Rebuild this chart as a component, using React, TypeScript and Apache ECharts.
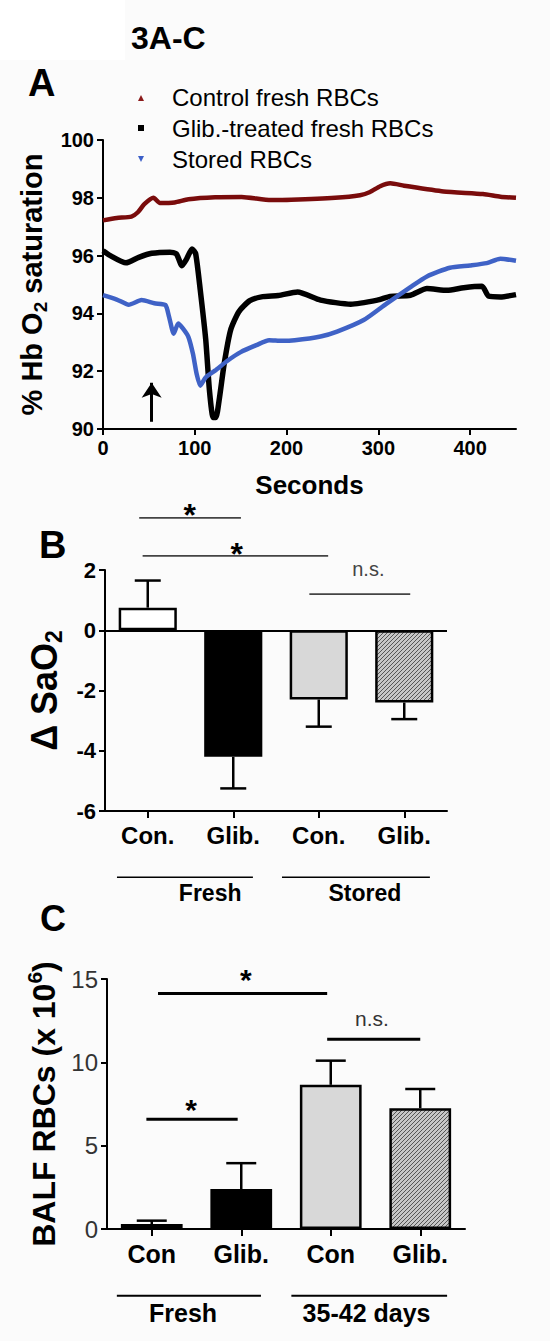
import React, { useEffect, useRef } from 'react';
import * as echarts from 'echarts';

const FONT = "'Liberation Sans', Arial, Helvetica, sans-serif";

// ---------- Panel A: O2 saturation traces ----------
const aXTicks = [0, 100, 200, 300, 400];
const controlT = [0, 15, 31, 38, 45, 55, 62, 78, 93, 122, 151, 183, 205, 253, 280, 291, 302, 313, 328, 371, 414, 433, 450];
const controlV = [97.22, 97.3, 97.35, 97.5, 97.78, 98.0, 97.82, 97.84, 97.95, 98.02, 98.03, 97.92, 97.93, 98.0, 98.09, 98.2, 98.4, 98.5, 98.42, 98.22, 98.13, 98.04, 98.0];
const glibT = [0, 8, 25, 39, 53, 73, 80, 86, 91, 97, 101, 106, 112, 116, 120, 123, 127, 132, 139, 148, 160, 174, 191, 212, 237, 270, 299, 313, 335, 353, 375, 393, 413, 420, 433, 450];
const glibV = [96.17, 96.0, 95.75, 95.94, 96.08, 96.12, 96.06, 95.65, 95.88, 96.23, 96.06, 94.8, 93.07, 91.33, 90.4, 90.4, 91.1, 92.25, 93.42, 94.06, 94.44, 94.58, 94.62, 94.74, 94.46, 94.32, 94.46, 94.59, 94.63, 94.86, 94.8, 94.89, 94.94, 94.6, 94.57, 94.65];
const storedT = [0, 15, 28, 42, 56, 68, 72, 77, 82, 87, 93, 98, 102, 106, 112, 122, 136, 150, 167, 181, 195, 209, 237, 255, 284, 309, 335, 353, 378, 400, 418, 433, 450];
const storedV = [94.63, 94.48, 94.3, 94.46, 94.35, 94.29, 93.88, 93.3, 93.65, 93.48, 93.19, 92.6, 91.91, 91.5, 91.79, 92.02, 92.37, 92.66, 92.9, 93.07, 93.05, 93.07, 93.2, 93.37, 93.77, 94.34, 94.91, 95.28, 95.58, 95.66, 95.74, 95.89, 95.82];
const legendNames = ['Control fresh RBCs', 'Glib.-treated fresh RBCs', 'Stored RBCs'];
const arrowAt = [53, 90.25, 91.6]; // seconds, tail, tip

// ---------- Panel B: delta SaO2 ----------
const bCats = ['Con.', 'Glib.', 'Con.', 'Glib.'];
const bMeans = [0.75, -4.2, -2.3, -2.4];
const bErrEnds = [1.65, -5.25, -3.2, -2.95];
const bBrackets = [[-0.1, 1.09, 3.73], [-0.06, 2.11, 2.47], [1.89, 3.07, 1.2]];
const bMarkPos = [[0.49, 4.1], [1.04, 2.8], [2.58, 2.03]];
const bMarkText = ['*', '*', 'n.s.'];
const bGroupLines = [[-0.36, 1.23, -8.2], [1.57, 3.3, -8.2]];
const bGroupPos = [[0.73, -8.73], [2.54, -8.73]];
const bGroupText = ['Fresh', 'Stored'];

// ---------- Panel C: BALF RBCs ----------
const cCats = ['Con', 'Glib.', 'Con', 'Glib.'];
const cMeans = [0.3, 2.4, 8.65, 7.25];
const cErrEnds = [0.5, 3.95, 10.1, 8.4];
const cBrackets = [[0.07, 1.96, 14.13], [1.96, 3.0, 11.38], [-0.06, 0.96, 6.59]];
const cMarkPos = [[1.05, 15.4], [2.46, 12.63], [0.44, 7.6]];
const cMarkText = ['*', 'n.s.', '*'];
const cGroupLines = [[-0.39, 1.22, -4.01], [1.56, 3.3, -4.01]];
const cGroupPos = [[0.35, -5.03], [2.4, -5.03]];
const cGroupText = ['Fresh', '35-42 days'];

function makeHatch() {
  const c = document.createElement('canvas');
  c.width = 4;
  c.height = 4;
  const g = c.getContext('2d')!;
  g.fillStyle = '#c6c6c6';
  g.fillRect(0, 0, 4, 4);
  g.strokeStyle = '#555';
  g.lineWidth = 1;
  g.beginPath();
  g.moveTo(0, 4); g.lineTo(4, 0);
  g.moveTo(-1, 1); g.lineTo(1, -1);
  g.moveTo(3, 5); g.lineTo(5, 3);
  g.stroke();
  return c;
}

const zip = (t: number[], v: number[]) => t.map((x, i) => [x, v[i]]);

function errorSeries(xi: number, yi: number, means: number[], ends: number[], cap: number) {
  return {
    type: 'custom',
    xAxisIndex: xi,
    yAxisIndex: yi,
    clip: false,
    z: 3,
    data: means.map((m, i) => [i, m, ends[i]]),
    renderItem: (_p: any, api: any) => {
      const x = api.value(0);
      const p0 = api.coord([x, api.value(1)]);
      const p1 = api.coord([x, api.value(2)]);
      const st = { stroke: '#000', lineWidth: 2.5 };
      return {
        type: 'group',
        children: [
          { type: 'line', shape: { x1: p0[0], y1: p0[1], x2: p1[0], y2: p1[1] }, style: st },
          { type: 'line', shape: { x1: p1[0] - cap / 2, y1: p1[1], x2: p1[0] + cap / 2, y2: p1[1] }, style: st },
        ],
      };
    },
  };
}

function segSeries(xi: number, yi: number, segs: number[][], color: string, width: number) {
  return {
    type: 'custom',
    xAxisIndex: xi,
    yAxisIndex: yi,
    clip: false,
    silent: true,
    data: segs,
    renderItem: (_p: any, api: any) => {
      const a = api.coord([api.value(0), api.value(2)]);
      const b = api.coord([api.value(1), api.value(2)]);
      return { type: 'line', shape: { x1: a[0], y1: a[1], x2: b[0], y2: b[1] }, style: { stroke: color, lineWidth: width } };
    },
  };
}

function textSeries(xi: number, yi: number, pos: number[][], texts: string[], styleFor: (t: string) => any) {
  return {
    type: 'custom',
    xAxisIndex: xi,
    yAxisIndex: yi,
    clip: false,
    silent: true,
    data: pos,
    renderItem: (p: any, api: any) => {
      const t = texts[p.dataIndex];
      const s = styleFor(t);
      const c = api.coord([api.value(0), api.value(1)]);
      return {
        type: 'text',
        x: c[0],
        y: c[1] + (t === '*' ? s.fontSize * 0.25 : 0),
        style: { text: t, align: 'center', verticalAlign: 'middle', fontFamily: FONT, ...s },
      };
    },
  };
}

function buildOption() {
  const hatch = makeHatch();
  const axisLine = { show: true, onZero: false, lineStyle: { color: '#000', width: 2 } };
  const tick = (len: number) => ({ show: true, length: len, lineStyle: { color: '#000', width: 2 } });
  const boldLbl = (size: number, margin: number) => ({ color: '#000', fontSize: size, fontWeight: 'bold', fontFamily: FONT, margin });
  const barBorder = { borderColor: '#000', borderWidth: 2.5 };
  const fills = ['#ffffff', '#000000', '#d8d8d8', { image: hatch, repeat: 'repeat' }];

  return {
    animation: false,
    backgroundColor: '#fbfbfb',
    grid: [
      { left: 103, top: 140, width: 413, height: 289 },
      { left: 105, top: 570, width: 342, height: 241 },
      { left: 107, top: 979, width: 358, height: 250 },
    ],
    xAxis: [
      {
        type: 'value', gridIndex: 0, min: 0, max: 450,
        axisLine, axisTick: { ...tick(6), customValues: aXTicks },
        axisLabel: { ...boldLbl(20, 9), customValues: aXTicks },
        splitLine: { show: false },
        name: 'Seconds', nameLocation: 'middle', nameGap: 43,
        nameTextStyle: { color: '#000', fontSize: 26, fontWeight: 'bold', fontFamily: FONT },
      },
      {
        type: 'category', gridIndex: 1, data: bCats,
        axisLine, axisTick: { ...tick(7), alignWithLabel: true },
        axisLabel: boldLbl(24, 12),
      },
      { type: 'value', gridIndex: 1, min: -0.5, max: 3.5, show: false },
      {
        type: 'category', gridIndex: 2, data: cCats,
        axisLine, axisTick: { ...tick(7), alignWithLabel: true },
        axisLabel: boldLbl(25, 12),
      },
      { type: 'value', gridIndex: 2, min: -0.5, max: 3.5, show: false },
    ],
    yAxis: [
      {
        type: 'value', gridIndex: 0, min: 90, max: 100, interval: 2,
        axisLine, axisTick: tick(6), axisLabel: boldLbl(20, 9), splitLine: { show: false },
        name: '{a|% Hb O}{s|2}{a| saturation}', nameLocation: 'middle', nameRotate: 90, nameGap: 43,
        nameTextStyle: {
          rich: {
            a: { fontSize: 29, fontWeight: 'bold', fontFamily: FONT, color: '#000', lineHeight: 36 },
            s: { fontSize: 19, fontWeight: 'bold', fontFamily: FONT, color: '#000', verticalAlign: 'bottom', lineHeight: 20 },
          },
        },
      },
      {
        type: 'value', gridIndex: 1, min: -6, max: 2, interval: 2,
        axisLine, axisTick: tick(6), axisLabel: boldLbl(22, 9), splitLine: { show: false },
        name: '{a|Δ SaO}{s|2}', nameLocation: 'middle', nameRotate: 90, nameGap: 26,
        nameTextStyle: {
          rich: {
            a: { fontSize: 36, fontWeight: 'bold', fontFamily: FONT, color: '#000', lineHeight: 42 },
            s: { fontSize: 23, fontWeight: 'bold', fontFamily: FONT, color: '#000', verticalAlign: 'bottom', lineHeight: 22 },
          },
        },
      },
      {
        type: 'value', gridIndex: 2, min: 0, max: 15, interval: 5,
        axisLine, axisTick: tick(6),
        axisLabel: { color: '#333', fontSize: 24, fontFamily: FONT, margin: 9 },
        splitLine: { show: false },
        name: '{a|BALF RBCs (x 10}{p|6}{a|)}', nameLocation: 'middle', nameRotate: 90, nameGap: 33,
        nameTextStyle: {
          rich: {
            a: { fontSize: 32, fontWeight: 'bold', fontFamily: FONT, color: '#000', lineHeight: 40 },
            p: { fontSize: 21, fontWeight: 'bold', fontFamily: FONT, color: '#000', verticalAlign: 'top', lineHeight: 22 },
          },
        },
      },
    ],
    graphic: [
      { type: 'rect', shape: { x: 0, y: 0, width: 125, height: 60 }, style: { fill: '#ffffff' }, silent: true, z: -10 },
      { type: 'text', x: 131, y: 38, style: { text: '3A-C', fontSize: 32, fontWeight: 'bold', fontFamily: FONT, fill: '#000', verticalAlign: 'middle' } },
      { type: 'text', x: 28, y: 83, style: { text: 'A', fontSize: 38, fontWeight: 'bold', fontFamily: FONT, fill: '#000', verticalAlign: 'middle' } },
      { type: 'text', x: 39, y: 545, style: { text: 'B', fontSize: 38, fontWeight: 'bold', fontFamily: FONT, fill: '#000', verticalAlign: 'middle' } },
      { type: 'text', x: 40, y: 918, style: { text: 'C', fontSize: 36, fontWeight: 'bold', fontFamily: FONT, fill: '#000', verticalAlign: 'middle' } },
      { type: 'polygon', shape: { points: [[138, 101], [144, 101], [141, 95]] }, style: { fill: '#8b1a1a' } },
      { type: 'rect', shape: { x: 138, y: 125, width: 6, height: 6 }, style: { fill: '#000' } },
      { type: 'polygon', shape: { points: [[138, 156], [144, 156], [141, 162]] }, style: { fill: '#3c5fc8' } },
      ...legendNames.map((n, i) => ({
        type: 'text', x: 172, y: [97, 128, 159][i],
        style: { text: n, fontSize: 24, fontFamily: FONT, fill: '#000', verticalAlign: 'middle' },
      })),
    ],
    series: [
      {
        name: legendNames[0], type: 'line', xAxisIndex: 0, yAxisIndex: 0, data: zip(controlT, controlV),
        showSymbol: false, smooth: 0.2, lineStyle: { color: '#7a0c0c', width: 4.5 }, itemStyle: { color: '#7a0c0c' },
      },
      {
        name: legendNames[1], type: 'line', xAxisIndex: 0, yAxisIndex: 0, data: zip(glibT, glibV),
        showSymbol: false, smooth: 0.2, lineStyle: { color: '#000', width: 5.5 }, itemStyle: { color: '#000' },
        markLine: {
          silent: true, symbol: ['none', 'arrow'], symbolSize: 15, label: { show: false },
          lineStyle: { color: '#000', width: 3, type: 'solid' },
          data: [[{ coord: [arrowAt[0], arrowAt[1]] }, { coord: [arrowAt[0], arrowAt[2]] }]],
        },
      },
      {
        name: legendNames[2], type: 'line', xAxisIndex: 0, yAxisIndex: 0, data: zip(storedT, storedV),
        showSymbol: false, smooth: 0.2, lineStyle: { color: '#3f62c6', width: 4.5 }, itemStyle: { color: '#3f62c6' },
      },
      // Panel B
      {
        type: 'bar', xAxisIndex: 1, yAxisIndex: 1, barWidth: '68%',
        data: bMeans.map((v, i) => ({ value: v, itemStyle: { color: fills[i], ...barBorder } })),
        markLine: {
          silent: true, symbol: 'none', label: { show: false },
          lineStyle: { color: '#000', width: 2, type: 'solid' }, data: [{ yAxis: 0 }],
        },
      },
      errorSeries(1, 1, bMeans, bErrEnds, 26),
      segSeries(2, 1, bBrackets, '#444', 1.6),
      textSeries(2, 1, bMarkPos, bMarkText, (t) => (t === '*' ? { fontSize: 32, fontWeight: 'bold', fill: '#000' } : { fontSize: 20, fill: '#444' })),
      segSeries(2, 1, bGroupLines, '#000', 1.6),
      textSeries(2, 1, bGroupPos, bGroupText, () => ({ fontSize: 23, fontWeight: 'bold', fill: '#000' })),
      // Panel C
      {
        type: 'bar', xAxisIndex: 3, yAxisIndex: 2, barWidth: '69%',
        data: cMeans.map((v, i) => ({ value: v, itemStyle: { color: fills[i], ...barBorder } })),
      },
      errorSeries(3, 2, cMeans, cErrEnds, 30),
      segSeries(4, 2, cBrackets, '#000', 3),
      textSeries(4, 2, cMarkPos, cMarkText, (t) => (t === '*' ? { fontSize: 30, fontWeight: 'bold', fill: '#000' } : { fontSize: 21, fill: '#333' })),
      segSeries(4, 2, cGroupLines, '#000', 2),
      textSeries(4, 2, cGroupPos, cGroupText, () => ({ fontSize: 25, fontWeight: 'bold', fill: '#000' })),
    ],
  };
}

export default function App() {
  const ref = useRef<HTMLDivElement>(null);
  useEffect(() => {
    document.body.style.margin = '0';
    const chart = echarts.init(ref.current!, null, { renderer: 'svg' });
    chart.setOption(buildOption() as any);
    return () => chart.dispose();
  }, []);
  return <div ref={ref} style={{ width: 550, height: 1341 }} />;
}
